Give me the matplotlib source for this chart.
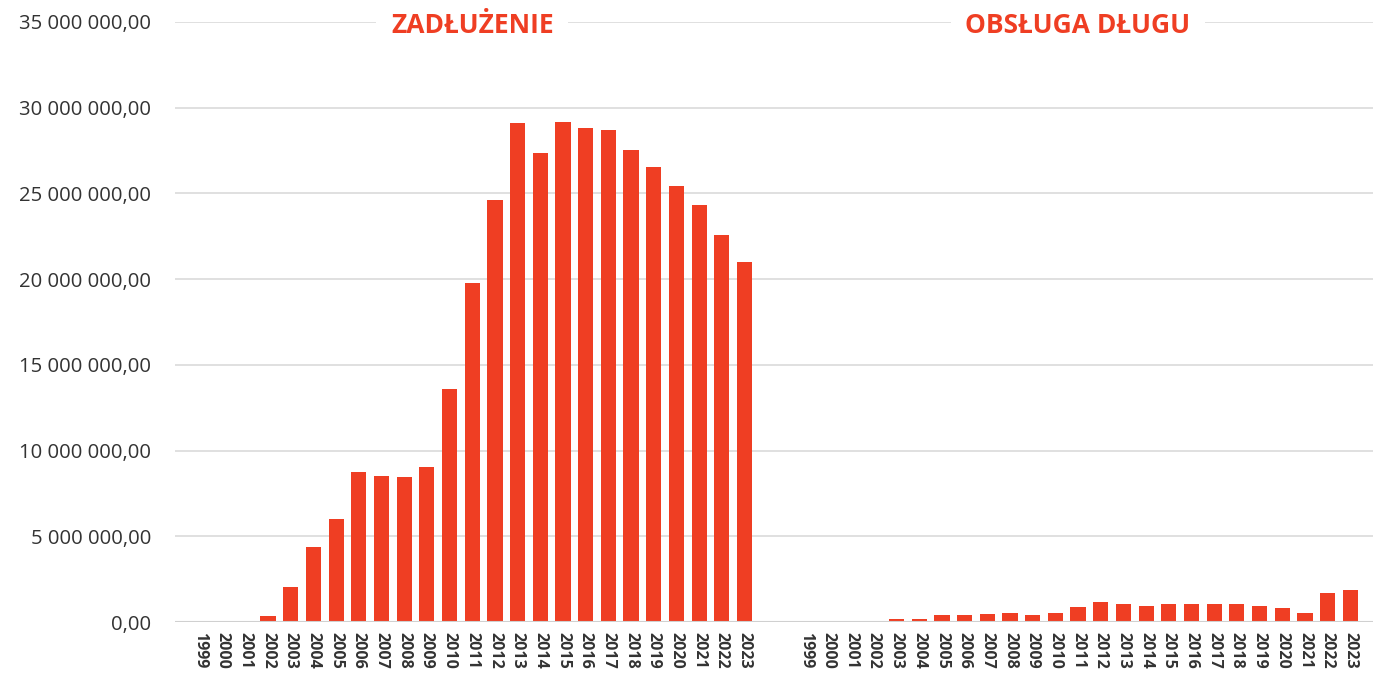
import matplotlib
matplotlib.use("Agg")
import matplotlib.pyplot as plt
import numpy as np
from matplotlib.ticker import FuncFormatter

plt.rcParams['font.family'] = ['Open Sans', 'DejaVu Sans']

years = [str(y) for y in range(1999, 2024)]

# zadłużenie (PLN)
debt = [0, 0, 0, 350000, 2040000, 4380000, 6000000, 8750000, 8520000, 8460000,
        9040000, 13600000, 19780000, 24620000, 29110000, 27360000, 29170000,
        28820000, 28700000, 27540000, 26550000, 25440000, 24330000, 22580000,
        21000000]

# obsługa długu (PLN)
service = [0, 0, 0, 0, 150000, 200000, 400000, 400000, 450000, 520000,
           400000, 550000, 850000, 1150000, 1050000, 930000, 1050000, 1050000,
           1050000, 1050000, 930000, 800000, 550000, 1680000, 1850000]

group_titles = ["ZADŁUŻENIE", "OBSŁUGA DŁUGU"]

red = "#EF3E23"
gap = 26.7

fig = plt.figure(figsize=(13.73, 6.75), dpi=100)
ax = fig.add_axes([0.1275, 0.0785, 0.8725, 0.889])

x_left = np.arange(len(years))
x_right = x_left + gap

ax.bar(x_left, debt, width=0.67, color=red, zorder=3)
ax.bar(x_right, service, width=0.67, color=red, zorder=3)

ax.set_ylim(0, 35000000)
ax.set_xlim(-1.1, x_right[-1] + 1.0)
ax.set_yticks(np.arange(0, 35000001, 5000000))


def pl_fmt(v, pos):
    s = f"{v:,.2f}"
    return s.replace(",", " ").replace(".", ",")


ax.yaxis.set_major_formatter(FuncFormatter(pl_fmt))
ax.grid(axis="y", color="#DDDDDD", linewidth=1.3, zorder=0)
ax.axhline(0, color="#D0D0D0", linewidth=1.5, zorder=4)

ax.set_xticks(np.concatenate([x_left, x_right]))
ax.set_xticklabels(years + years, rotation=-90, fontsize=11.5, fontweight="bold",
                   color="#333333")
ax.tick_params(axis="x", length=0, pad=7)
ax.tick_params(axis="y", length=0, pad=17, labelsize=14.6, labelcolor="#333333")

for s in ax.spines.values():
    s.set_visible(False)

centers = [x_left.mean(), x_right.mean()]
for c, t in zip(centers, group_titles):
    ax.annotate(t, xy=(c, 35000000), xytext=(0, -8), textcoords="offset points",
                ha="center", va="baseline", fontsize=19, fontweight="bold",
                color=red, zorder=5,
                bbox=dict(boxstyle="square,pad=0.55", facecolor="white",
                          edgecolor="none"))

fig.savefig("out.png", dpi=100)
